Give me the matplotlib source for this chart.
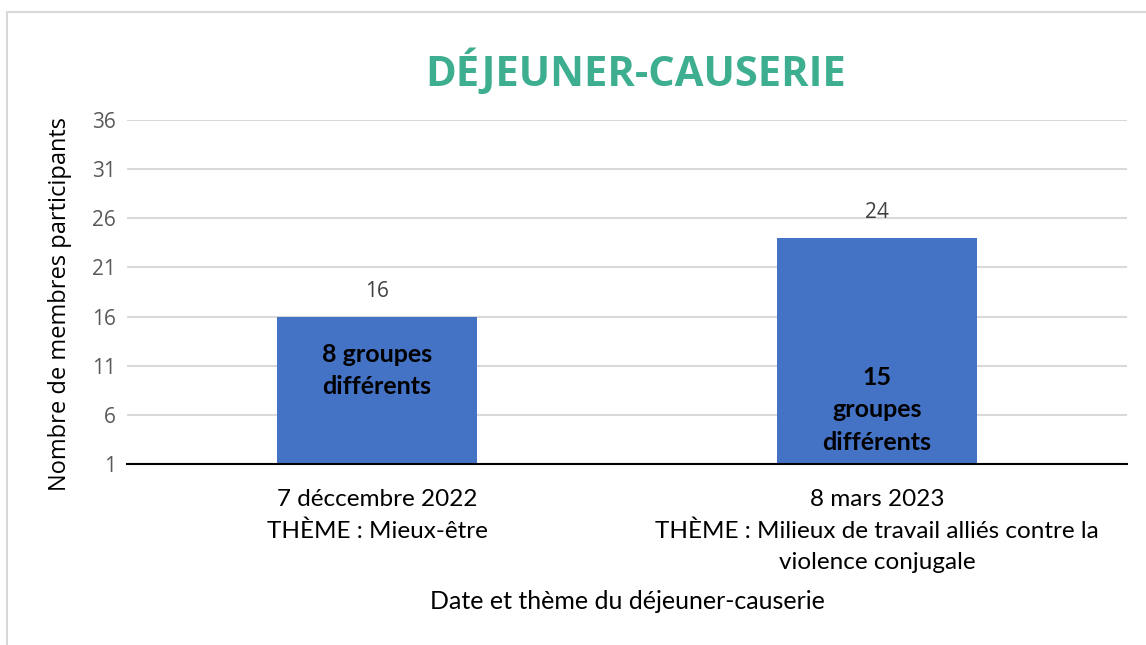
import matplotlib.pyplot as plt
from matplotlib.patches import Rectangle

categories = [
    "7 déccembre 2022\nTHÈME : Mieux-être",
    "8 mars 2023\nTHÈME : Milieux de travail alliés contre la\nviolence conjugale",
]
participants = [16, 24]
inside_labels = ["8 groupes\ndifférents", "15\ngroupes\ndifférents"]
inside_pos = [10.5, 6.5]
yticks = [1, 6, 11, 16, 21, 26, 31, 36]

plt.rcParams["font.family"] = ["Open Sans", "DejaVu Sans"]

fig = plt.figure(figsize=(11.46, 6.45), dpi=100)
ax = fig.add_axes([127 / 1146, 181 / 645, 1000 / 1146, 344 / 645])

fig.patches.append(Rectangle((7 / 1146, -0.1), 1.2, (645 - 12) / 645 + 0.1,
                             transform=fig.transFigure, fill=False,
                             edgecolor="#d9d9d9", linewidth=1.5))

x = range(len(categories))
ax.bar(x, [v - 1 for v in participants], 0.4, bottom=1, color="#4472c4", zorder=3)

for i, v in enumerate(participants):
    ax.text(i, v + 1.5, str(v), ha="center", va="bottom", fontsize=15, color="#404040")
    ax.text(i, inside_pos[i], inside_labels[i], ha="center", va="center",
            fontsize=18, fontweight="bold", color="black", linespacing=1.5,
            family=["Lato", "DejaVu Sans"], zorder=4)

ax.set_xlim(-0.5, 1.5)
ax.set_ylim(1, 36)
ax.set_yticks(yticks)
ax.set_xticks(list(x))
ax.set_xticklabels(categories, fontsize=17.5, linespacing=1.6,
                   family=["Lato", "DejaVu Sans"])
ax.tick_params(axis="y", length=0, labelsize=15, labelcolor="#595959", pad=8)
ax.tick_params(axis="x", length=0, pad=18)
ax.grid(axis="y", color="#d9d9d9", linewidth=1.5, zorder=0)
for s in ["top", "right", "left"]:
    ax.spines[s].set_visible(False)
ax.spines["bottom"].set_linewidth(1.5)
ax.spines["bottom"].set_zorder(5)

ax.set_ylabel("Nombre de membres participants", fontsize=17)
ax.yaxis.set_label_coords(-55 / 1000, 0.465)
ax.set_xlabel("Date et thème du déjeuner-causerie", fontsize=18, labelpad=12,
              family=["Lato", "DejaVu Sans"])

fig.text(636 / 1146, 1 - 73 / 645, "DÉJEUNER-CAUSERIE", ha="center", va="center",
         fontsize=30, fontweight="bold", color="#3dae90")

fig.savefig("out.png", dpi=100)
